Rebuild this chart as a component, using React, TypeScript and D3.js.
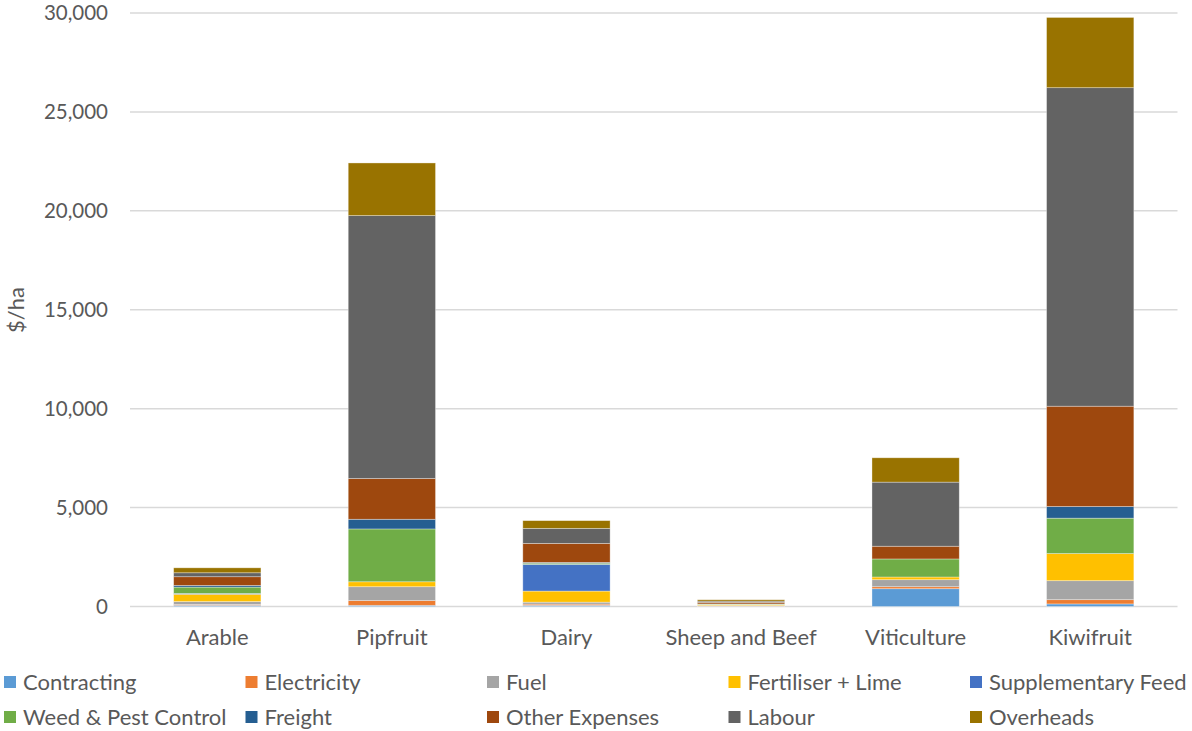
import React from "react";
import * as d3 from "d3";

// Farm system categories along the x axis
const categories = ["Arable", "Pipfruit", "Dairy", "Sheep and Beef", "Viticulture", "Kiwifruit"];

// Cost components, stacked bottom to top
const seriesNames = [
  "Contracting",
  "Electricity",
  "Fuel",
  "Fertiliser + Lime",
  "Supplementary Feed",
  "Weed & Pest Control",
  "Freight",
  "Other Expenses",
  "Labour",
  "Overheads",
];

const seriesColors = [
  "#5B9BD5",
  "#ED7D31",
  "#A5A5A5",
  "#FFC000",
  "#4472C4",
  "#70AD47",
  "#255E91",
  "#9E480E",
  "#636363",
  "#997300",
];

// $/ha per category, one array per cost component (order matches categories)
const contracting = [60, 60, 60, 15, 900, 130];
const electricity = [40, 240, 60, 10, 100, 215];
const fuel = [150, 700, 100, 25, 355, 960];
const fertiliserLime = [370, 250, 560, 50, 136, 1370];
const supplementaryFeed = [40, 0, 1350, 5, 0, 0];
const weedPestControl = [320, 2670, 60, 20, 912, 1790];
const freight = [85, 490, 40, 5, 0, 590];
const otherExpenses = [440, 2060, 960, 80, 644, 5070];
const labour = [200, 13290, 760, 60, 3240, 16100];
const overheads = [250, 2660, 390, 70, 1230, 3550];

const yTicks = [0, 5000, 10000, 15000, 20000, 25000, 30000];

const seriesValues = [
  contracting,
  electricity,
  fuel,
  fertiliserLime,
  supplementaryFeed,
  weedPestControl,
  freight,
  otherExpenses,
  labour,
  overheads,
];

const WIDTH = 1192;
const HEIGHT = 731;
const FONT = "Lato, 'Open Sans', sans-serif";
const TEXT = "#595959";

export default function App() {
  const plot = { left: 130, right: 1177.5, top: 13, bottom: 606.5 };

  const rows = categories.map((c, i) => {
    const r: Record<string, number | string> = { category: c };
    seriesNames.forEach((s, k) => (r[s] = seriesValues[k][i]));
    return r;
  });

  const stack = d3.stack<Record<string, number | string>>().keys(seriesNames);
  const layers = stack(rows as any);

  const x = d3
    .scaleBand<string>()
    .domain(categories)
    .range([plot.left, plot.right])
    .paddingInner(0.5)
    .paddingOuter(0.25);

  const y = d3.scaleLinear().domain([0, 30000]).range([plot.bottom, plot.top]);
  const fmt = d3.format(",");

  const legendCols = [4, 245.5, 487, 728.5, 970];
  const legendRows = [682, 717];

  return (
    <svg
      width={WIDTH}
      height={HEIGHT}
      style={{ position: "absolute", left: 0, top: 0, background: "#fff" }}
      fontFamily={FONT}
    >
      {/* horizontal gridlines */}
      {yTicks.map((t) => (
        <line
          key={t}
          x1={plot.left}
          x2={plot.right}
          y1={y(t)}
          y2={y(t)}
          stroke="#D9D9D9"
          strokeWidth={1.5}
        />
      ))}

      {/* y tick labels */}
      {yTicks.map((t) => (
        <text
          key={"l" + t}
          x={108}
          y={y(t)}
          dy="0.35em"
          textAnchor="end"
          fontSize={20.5}
          fill={TEXT}
        >
          {fmt(t)}
        </text>
      ))}

      {/* y axis title */}
      <text
        transform={`translate(24, 310) rotate(-90)`}
        textAnchor="middle"
        fontSize={22}
        fill={TEXT}
      >
        $/ha
      </text>

      {/* stacked bars */}
      {layers.map((layer, k) => (
        <g key={seriesNames[k]} fill={seriesColors[k]}>
          {layer.map((d, i) => {
            const h = y(d[0]) - y(d[1]);
            if (h <= 0) return null;
            return (
              <rect
                key={i}
                x={x(categories[i])}
                y={y(d[1])}
                width={x.bandwidth()}
                height={h}
                stroke="#ffffff"
                strokeOpacity={0.45}
                strokeWidth={0.75}
              />
            );
          })}
        </g>
      ))}

      {/* category labels */}
      {categories.map((c) => (
        <text
          key={c}
          x={(x(c) as number) + x.bandwidth() / 2}
          y={637}
          dy="0.35em"
          textAnchor="middle"
          fontSize={22}
          fill={TEXT}
        >
          {c}
        </text>
      ))}

      {/* legend */}
      {seriesNames.map((s, k) => {
        const cx = legendCols[k % 5];
        const cy = legendRows[Math.floor(k / 5)];
        return (
          <g key={s}>
            <rect x={cx} y={cy - 6} width={12} height={12} fill={seriesColors[k]} />
            <text x={cx + 19} y={cy} dy="0.35em" fontSize={22} fill={TEXT}>
              {s}
            </text>
          </g>
        );
      })}
    </svg>
  );
}
